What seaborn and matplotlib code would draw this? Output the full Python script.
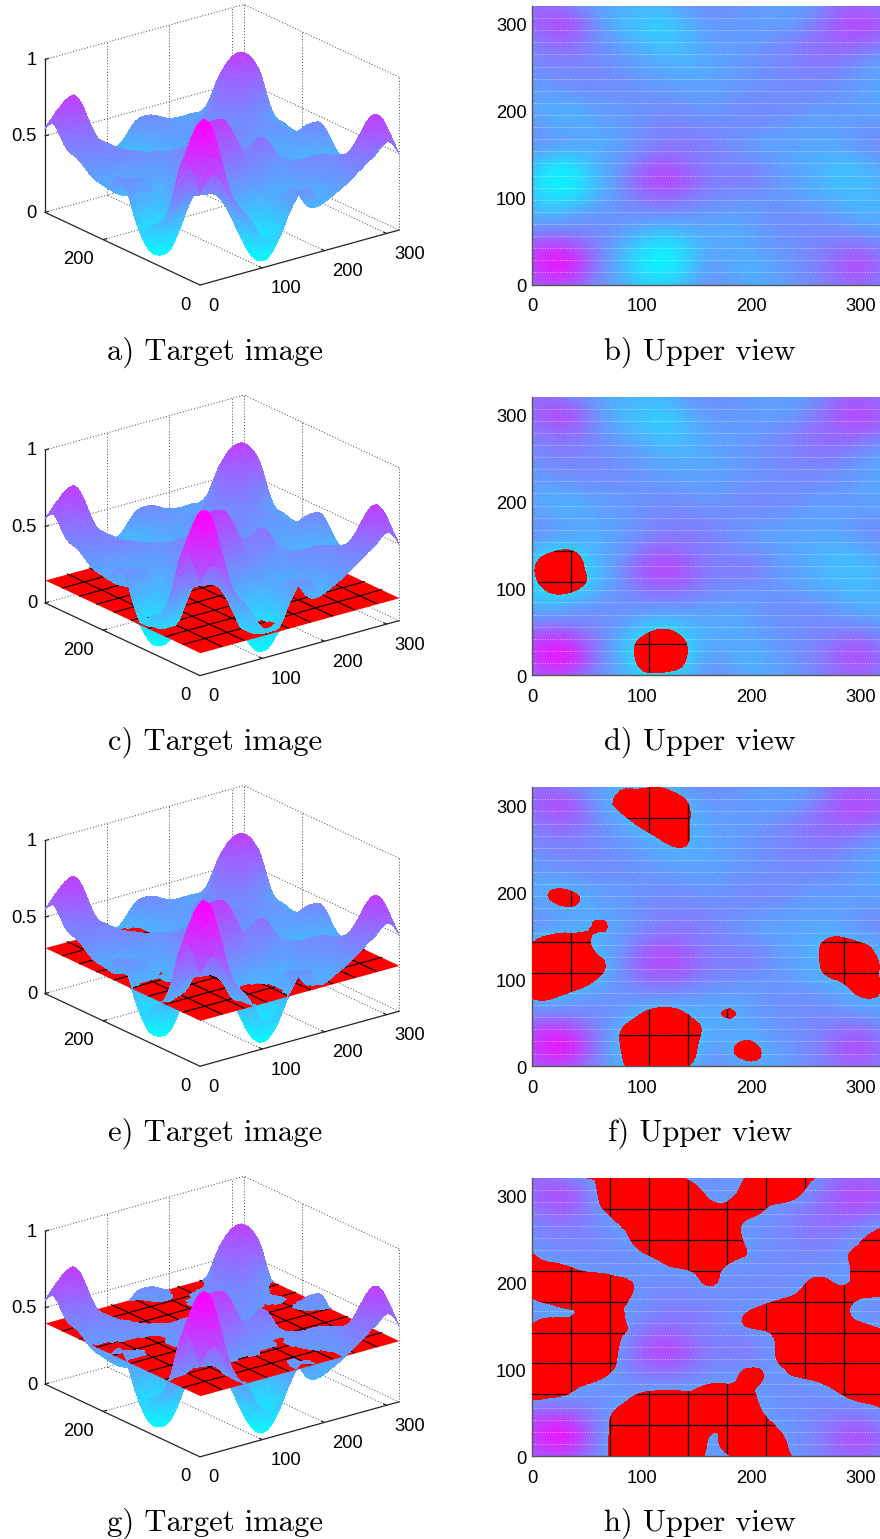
import numpy as np
import matplotlib
matplotlib.use('Agg')
import matplotlib.pyplot as plt
import matplotlib.tri as mtri
from matplotlib.transforms import ScaledTranslation
from mpl_toolkits.mplot3d import proj3d
import seaborn as sns

sns.set_theme(style='white')
plt.rcParams['font.family'] = ['Liberation Sans', 'DejaVu Sans']

# surface height, one list per row (y), left to right (x)
grid_x = [0, 20, 40, 60, 80, 100, 120, 140, 160, 180, 200, 220, 240, 260, 280, 300, 320]
grid_y = [0, 20, 40, 60, 80, 100, 120, 140, 160, 180, 200, 220, 240, 260, 280, 300, 320]
z_y0 = [.60, .70, .60, .45, .34, .20, .20, .28, .42, .41, .33, .36, .41, .47, .55, .60, .50]
z_y20 = [.75, 1.0, .88, .50, .31, .08, .00, .14, .40, .33, .27, .36, .43, .50, .65, .75, .55]
z_y40 = [.72, .85, .72, .50, .31, .12, .05, .16, .34, .35, .35, .405, .43, .48, .55, .62, .47]
z_y60 = [.45, .50, .46, .44, .41, .30, .22, .30, .34, .29, .37, .42, .44, .46, .45, .42, .37]
z_y80 = [.29, .28, .385, .43, .42, .44, .44, .43, .39, .385, .39, .44, .45, .43, .37, .295, .31]
z_y100 = [.24, .09, .12, .31, .43, .55, .60, .55, .47, .45, .39, .42, .37, .33, .29, .27, .31]
z_y120 = [.18, .00, .07, .26, .42, .66, .76, .70, .50, .52, .55, .41, .36, .31, .24, .26, .31]
z_y140 = [.29, .12, .14, .36, .39, .55, .65, .55, .50, .47, .45, .395, .35, .31, .26, .29, .38]
z_y160 = [.45, .41, .38, .28, .38, .44, .52, .53, .50, .44, .38, .36, .35, .35, .35, .44, .46]
z_y180 = [.41, .35, .33, .37, .39, .44, .48, .48, .46, .45, .44, .41, .38, .36, .36, .405, .42]
z_y200 = [.36, .29, .31, .36, .385, .42, .45, .45, .39, .44, .47, .47, .44, .38, .41, .37, .35]
z_y220 = [.37, .39, .43, .45, .44, .43, .405, .38, .37, .405, .42, .44, .45, .45, .42, .38, .33]
z_y240 = [.42, .46, .47, .46, .43, .39, .35, .33, .34, .37, .41, .45, .47, .49, .44, .39, .35]
z_y260 = [.46, .52, .50, .46, .41, .36, .29, .29, .35, .38, .42, .45, .50, .55, .55, .46, .38]
z_y280 = [.50, .60, .58, .44, .35, .26, .20, .28, .36, .38, .39, .43, .50, .57, .62, .65, .55]
z_y300 = [.60, .74, .70, .40, .28, .22, .18, .28, .41, .41, .38, .37, .38, .52, .68, .74, .65]
z_y320 = [.55, .55, .43, .38, .31, .31, .31, .41, .45, .43, .39, .38, .38, .41, .58, .60, .55]

# level of the red plane in each row of panels
plane_levels = [None, 0.15, 0.3, 0.4]
left_captions = ['a) Target image', 'c) Target image', 'e) Target image', 'g) Target image']
right_captions = ['b) Upper view', 'd) Upper view', 'f) Upper view', 'h) Upper view']

# ticks
x_ticks = [0, 100, 200, 300]
y_ticks_3d = [0, 200]
y_ticks_2d = [0, 100, 200, 300]
z_ticks = [0, 0.5, 1]
z_tick_labels = ['0', '0.5', '1']

W, H = 880, 1539
ROW_STEP = 390.6
SPAN = 320
PLANE_GRID = SPAN / 9   # black mesh on the plane
DOT_GRID = SPAN / 23    # white dotted rows of the upper view

Z = np.array([z_y0, z_y20, z_y40, z_y60, z_y80, z_y100, z_y120, z_y140, z_y160,
              z_y180, z_y200, z_y220, z_y240, z_y260, z_y280, z_y300, z_y320])
xx, yy = np.meshgrid(grid_x, grid_y)

# let matplotlib's triangulation refiner smooth the small grid
base_tri = mtri.Triangulation(xx.ravel(), yy.ravel())
fine_tri, fine_z = mtri.UniformTriRefiner(base_tri).refine_field(Z.ravel(), subdiv=2)
surface_at = mtri.LinearTriInterpolator(fine_tri, fine_z)

cool = plt.get_cmap('cool')
AZIM, ELEV = -127.5, 21.1
BOX = (753, 764, 492)
cam = np.array([np.cos(np.radians(AZIM)) * np.cos(np.radians(ELEV)),
                np.sin(np.radians(AZIM)) * np.cos(np.radians(ELEV)),
                np.sin(np.radians(ELEV))])
step = cam / np.array([BOX[0] / SPAN, BOX[1] / SPAN, BOX[2]])


def to_px(ax, x, y, z):
    px, py, _ = proj3d.proj_transform(x, y, z, ax.get_proj())
    return ax.transData.transform((px, py))


def fit_box(ax, row):
    # scale the square axes so the box corners land where they are in the picture
    off = row * ROW_STEP
    side, cx, cy = 420.0, 220.0, 150.0
    for i in range(3):
        ax.set_position([(cx - side / 2) / W, 1 - (cy + side / 2) / H, side / W, side / H])
        ax.apply_aspect()
        left = to_px(ax, 0, SPAN, 0)
        right = to_px(ax, SPAN, 0, 0)
        side *= (1197 - 135) / 3 / (right[0] - left[0])
        ax.set_position([(cx - side / 2) / W, 1 - (cy + side / 2) / H, side / W, side / H])
        ax.apply_aspect()
        left = to_px(ax, 0, SPAN, 0)
        cx += 45 - left[0]
        cy += (H - left[1]) * -1 + (637 / 3 + off)


def box_lines(ax):
    dot = dict(color='#444444', lw=0.7, ls=(0, (1, 2)), zorder=1)
    solid = dict(color='#222222', lw=0.9, zorder=1)
    for v in x_ticks[1:]:
        ax.plot([v, v], [0, SPAN], [0, 0], **dot)
        ax.plot([v, v], [SPAN, SPAN], [0, 1], **dot)
        ax.plot([v, v], [0, 6], [0, 0], **solid)
    for v in y_ticks_3d[1:]:
        ax.plot([0, SPAN], [v, v], [0, 0], **dot)
        ax.plot([SPAN, SPAN], [v, v], [0, 1], **dot)
        ax.plot([0, 6], [v, v], [0, 0], **solid)
    for v in z_ticks[1:]:
        ax.plot([0, SPAN], [SPAN, SPAN], [v, v], **dot)
        ax.plot([SPAN, SPAN], [0, SPAN], [v, v], **dot)
    ax.plot([SPAN, SPAN], [SPAN, SPAN], [0, 1], **dot)
    ax.plot([SPAN, SPAN], [0, 0], [0, 1], **dot)
    ax.plot([0, SPAN], [SPAN, SPAN], [0, 0], **dot)
    ax.plot([SPAN, SPAN], [0, SPAN], [0, 0], **dot)
    ax.plot([0, SPAN], [0, 0], [0, 0], **solid)
    ax.plot([0, 0], [0, SPAN], [0, 0], **solid)
    ax.plot([0, 0], [SPAN, SPAN], [0, 1], **solid)
    for v in z_ticks:
        ax.plot([0, 6], [SPAN, SPAN], [v, v], **solid)


def tick_texts(ax):
    kw = dict(fontsize=13.2, va='center', color='black')
    for v in x_ticks:
        p = to_px(ax, v, 0, 0)
        fig.text((p[0] + 8) / W, (p[1] - 21) / H, str(v), ha='left', **kw)
    for v in y_ticks_3d:
        p = to_px(ax, 0, v, 0)
        fig.text((p[0] - 9) / W, (p[1] - 20) / H, str(v), ha='right', **kw)
    for v, s in zip(z_ticks, z_tick_labels):
        p = to_px(ax, 0, SPAN, v)
        fig.text((p[0] - 8) / W, (p[1] - 1) / H, s, ha='right', **kw)


def plane_mesh(ax, level):
    # a mesh point is hidden once the ray to the camera passes through the surface sheet
    s_vals = np.linspace(3, 420, 45)
    for t in np.arange(1, 9) * PLANE_GRID:
        for along_x in (True, False):
            a = np.linspace(0, SPAN, 320)
            px, py = (a, np.full_like(a, t)) if along_x else (np.full_like(a, t), a)
            under_sheet = np.ma.filled(surface_at(px, py), 0) > level
            seen = np.ones_like(a, dtype=bool)
            for s in s_vals:
                qz = surface_at(px + s * step[0], py + s * step[1])
                inside = ~np.ma.getmaskarray(qz)
                flipped = (np.ma.filled(qz, 0) > level + s * step[2]) != under_sheet
                seen &= ~(inside & flipped)
            lx, ly = px.copy(), py.copy()
            lx[~seen] = np.nan
            ax.plot(lx, ly, np.full_like(a, level), color='black', lw=0.8, zorder=3.5)


def draw_surface(ax, level):
    tri_kw = dict(cmap=cool, vmin=0, vmax=1, linewidth=0, antialiased=False, shade=False)
    if level is None:
        ax.plot_trisurf(fine_tri, fine_z, zorder=5, **tri_kw)
        return
    # surface below the plane, then the plane, then the surface above it
    vert_z = fine_z[fine_tri.triangles]
    under = mtri.Triangulation(fine_tri.x, fine_tri.y, fine_tri.triangles, mask=(vert_z > level).all(axis=1))
    over = mtri.Triangulation(fine_tri.x, fine_tri.y, fine_tri.triangles, mask=(vert_z <= level).all(axis=1))
    ax.plot_trisurf(under, np.minimum(fine_z, level), zorder=2, **tri_kw)
    ax.plot_surface(np.array([[0, SPAN], [0, SPAN]]), np.array([[0, 0], [SPAN, SPAN]]), np.full((2, 2), level),
                    color='#ff0000', shade=False, linewidth=0, antialiased=True, zorder=3)
    plane_mesh(ax, level)
    ax.plot_trisurf(over, np.maximum(fine_z, level), zorder=5, **tri_kw)


def draw_target(row, level):
    ax = fig.add_axes([0.0, 0.8, 0.45, 0.25], projection='3d', computed_zorder=False)
    ax.set_proj_type('ortho')
    ax.view_init(elev=ELEV, azim=AZIM)
    ax.set_box_aspect(BOX)
    ax.set_xlim(0, SPAN)
    ax.set_ylim(0, SPAN)
    ax.set_zlim(0, 1)
    ax.set_axis_off()
    ax.patch.set_alpha(0)
    fit_box(ax, row)
    box_lines(ax)
    draw_surface(ax, level)
    ax.set_xlim(0, SPAN)
    ax.set_ylim(0, SPAN)
    ax.set_zlim(0, 1)
    tick_texts(ax)


def idx(v):
    # seaborn heatmap cells sit on index positions, cell centres at i + 0.5
    return np.asarray(v, dtype=float) / 20 + 0.5


def draw_upper(row, level):
    top = 6 + row * ROW_STEP
    ax = fig.add_axes([532.3 / W, 1 - (top + 278.5) / H, 350.7 / W, 278.5 / H])
    sns.heatmap(Z, cmap='cool', vmin=0, vmax=1, cbar=False, ax=ax)
    # the original uses interpolated shading, so smooth the same values on top
    ax.imshow(Z, cmap='cool', vmin=0, vmax=1, origin='lower', extent=(0, 17, 0, 17),
              aspect='auto', interpolation='bicubic', zorder=1)
    ax.hlines(idx(np.arange(1, 23) * DOT_GRID), idx(0), idx(SPAN), color='white', lw=0.6,
              alpha=0.75, ls=(0, (1, 2)), zorder=2)
    if level is not None:
        tri_idx = mtri.Triangulation(idx(fine_tri.x), idx(fine_tri.y), fine_tri.triangles)
        red = ax.tricontourf(tri_idx, fine_z, levels=[-2, level], colors=['#ff0000'], zorder=3)
        clip = red.get_paths()[0]
        for k in range(1, 9):
            for ln in (ax.axvline(idx(k * PLANE_GRID), color='black', lw=0.9, zorder=4),
                       ax.axhline(idx(k * PLANE_GRID), color='black', lw=0.9, zorder=4)):
                ln.set_clip_path(clip, ax.transData)
    ax.set_xlim(idx(0), idx(SPAN))
    ax.set_ylim(idx(0), idx(SPAN))
    ax.set_xticks(idx(x_ticks))
    ax.set_xticklabels([str(v) for v in x_ticks], rotation=0)
    ax.set_yticks(idx(y_ticks_2d))
    ax.set_yticklabels([str(v) for v in y_ticks_2d], rotation=0)
    ax.tick_params(axis='both', length=0, labelsize=13.2, labelcolor='black')
    ax.tick_params(axis='x', pad=10)
    ax.tick_params(axis='y', pad=4)
    shift = ScaledTranslation(0, -2.5 / 72, fig.dpi_scale_trans)
    for lab in ax.get_yticklabels():
        lab.set_transform(lab.get_transform() + shift)
    for side in ('left', 'bottom'):
        ax.spines[side].set_visible(True)
        ax.spines[side].set_color('#555555')
        ax.spines[side].set_linewidth(1.0)


fig = plt.figure(figsize=(W / 100, H / 100), dpi=100, facecolor='white')
for row, level in enumerate(plane_levels):
    draw_target(row, level)
    draw_upper(row, level)
    cap_y = 1 - (352 + row * ROW_STEP) / H
    fig.text(215 / W, cap_y, left_captions[row], family='cmr10', fontsize=22, ha='center', va='center', color='black')
    fig.text(700 / W, cap_y, right_captions[row], family='cmr10', fontsize=22, ha='center', va='center', color='black')

fig.savefig('out.png', dpi=100)
